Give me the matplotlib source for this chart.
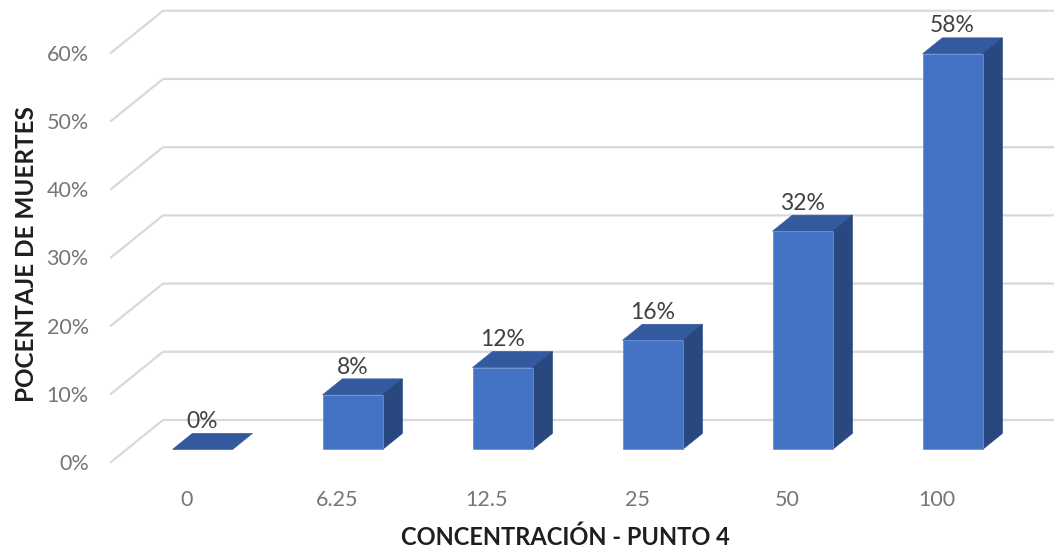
import matplotlib.pyplot as plt
from matplotlib.patches import Polygon

# Concentration levels and mortality percentages
concentraciones = ['0', '6.25', '12.5', '25', '50', '100']
muertes = [0, 8, 12, 16, 32, 58]
y_ticks = [0, 10, 20, 30, 40, 50, 60]

plt.rcParams['font.family'] = ['Lato', 'DejaVu Sans']

fig = plt.figure(figsize=(10.54, 5.51), dpi=100)
ax = fig.add_axes([111 / 1054, 89 / 551, 943 / 1054, 462 / 551])
ax.set_xlim(-0.5067, 5.78)
ax.set_ylim(0, 67.74)

# depth of the back wall in data units, and bar depth fractions
DX, DY = 0.3467, 6.16
f0, f1 = 0.30, 0.68
w = 0.4

front_col = '#4472C4'
top_col = '#335A9E'
side_col = '#2A4880'
grid_col = '#D9D9D9'

# slanted floor/wall gridlines
x_left = ax.get_xlim()[0]
x_right = ax.get_xlim()[1]
for t in y_ticks:
    ax.plot([x_left, x_left + DX, x_right], [t, t + DY, t + DY],
            color=grid_col, lw=1.6, clip_on=False, zorder=1)

for i, v in enumerate(muertes):
    x0 = i - w / 2 + f0 * DX
    y0 = f0 * DY
    dx = (f1 - f0) * DX
    dy = (f1 - f0) * DY
    top = [(x0, y0 + v), (x0 + w, y0 + v), (x0 + w + dx, y0 + v + dy), (x0 + dx, y0 + v + dy)]
    ax.add_patch(Polygon(top, closed=True, fc=top_col, ec=top_col, lw=0.5, zorder=3))
    if v > 0:
        side = [(x0 + w, y0), (x0 + w + dx, y0 + dy), (x0 + w + dx, y0 + v + dy), (x0 + w, y0 + v)]
        ax.add_patch(Polygon(side, closed=True, fc=side_col, ec=side_col, lw=0.5, zorder=3))
        ax.add_patch(Polygon([(x0, y0), (x0 + w, y0), (x0 + w, y0 + v), (x0, y0 + v)],
                             closed=True, fc=front_col, ec='#6A8FD6', lw=0.6, zorder=4))
    ax.text(i + f0 * DX, v + f1 * DY + 0.2, f'{v}%', ha='center', va='bottom',
            fontsize=16.5, color='#404040', zorder=5)

ax.set_yticks(y_ticks)
ax.set_yticklabels([f'{t}%' for t in y_ticks])
ax.set_xticks(range(len(concentraciones)))
ax.set_xticklabels(concentraciones)
ax.tick_params(axis='y', length=0, pad=16, labelsize=15.5, labelcolor='#767676')
ax.tick_params(axis='x', length=0, pad=20, labelsize=15.5, labelcolor='#767676')
for s in ax.spines.values():
    s.set_visible(False)

fig.text(565 / 1054, 1 - 537 / 551, 'CONCENTRACIÓN - PUNTO 4', ha='center', va='center',
         fontsize=17, fontweight='bold', color='#1E1E1E')
fig.text(27 / 1054, 1 - 254 / 551, 'POCENTAJE DE MUERTES', ha='center', va='center',
         rotation=90, fontsize=17.5, fontweight='bold', color='#1E1E1E')

fig.savefig('out.png', dpi=100)
